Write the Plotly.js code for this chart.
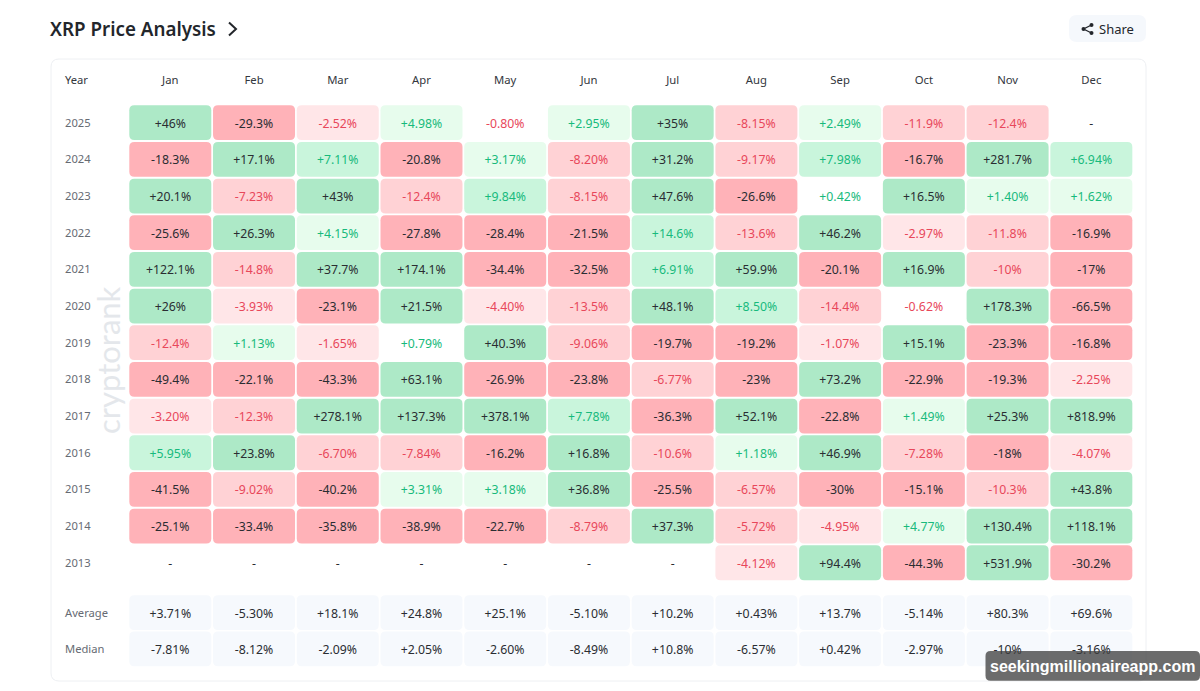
<!DOCTYPE html>
<html>
<head>
<meta charset="utf-8">
<script src="https://cdn.plot.ly/plotly-3.0.1.min.js"></script>
<style>html,body{margin:0;padding:0;background:#fff}#chart{width:1200px;height:691px}</style>
</head>
<body>
<div id="chart"></div>
<script>
const months = ["Jan","Feb","Mar","Apr","May","Jun","Jul","Aug","Sep","Oct","Nov","Dec"];
const years = ["2025","2024","2023","2022","2021","2020","2019","2018","2017","2016","2015","2014","2013"];
const y2025 = ["+46%","-29.3%","-2.52%","+4.98%","-0.80%","+2.95%","+35%","-8.15%","+2.49%","-11.9%","-12.4%","-"];
const y2024 = ["-18.3%","+17.1%","+7.11%","-20.8%","+3.17%","-8.20%","+31.2%","-9.17%","+7.98%","-16.7%","+281.7%","+6.94%"];
const y2023 = ["+20.1%","-7.23%","+43%","-12.4%","+9.84%","-8.15%","+47.6%","-26.6%","+0.42%","+16.5%","+1.40%","+1.62%"];
const y2022 = ["-25.6%","+26.3%","+4.15%","-27.8%","-28.4%","-21.5%","+14.6%","-13.6%","+46.2%","-2.97%","-11.8%","-16.9%"];
const y2021 = ["+122.1%","-14.8%","+37.7%","+174.1%","-34.4%","-32.5%","+6.91%","+59.9%","-20.1%","+16.9%","-10%","-17%"];
const y2020 = ["+26%","-3.93%","-23.1%","+21.5%","-4.40%","-13.5%","+48.1%","+8.50%","-14.4%","-0.62%","+178.3%","-66.5%"];
const y2019 = ["-12.4%","+1.13%","-1.65%","+0.79%","+40.3%","-9.06%","-19.7%","-19.2%","-1.07%","+15.1%","-23.3%","-16.8%"];
const y2018 = ["-49.4%","-22.1%","-43.3%","+63.1%","-26.9%","-23.8%","-6.77%","-23%","+73.2%","-22.9%","-19.3%","-2.25%"];
const y2017 = ["-3.20%","-12.3%","+278.1%","+137.3%","+378.1%","+7.78%","-36.3%","+52.1%","-22.8%","+1.49%","+25.3%","+818.9%"];
const y2016 = ["+5.95%","+23.8%","-6.70%","-7.84%","-16.2%","+16.8%","-10.6%","+1.18%","+46.9%","-7.28%","-18%","-4.07%"];
const y2015 = ["-41.5%","-9.02%","-40.2%","+3.31%","+3.18%","+36.8%","-25.5%","-6.57%","-30%","-15.1%","-10.3%","+43.8%"];
const y2014 = ["-25.1%","-33.4%","-35.8%","-38.9%","-22.7%","-8.79%","+37.3%","-5.72%","-4.95%","+4.77%","+130.4%","+118.1%"];
const y2013 = ["-","-","-","-","-","-","-","-4.12%","+94.4%","-44.3%","+531.9%","-30.2%"];
const average = ["+3.71%","-5.30%","+18.1%","+24.8%","+25.1%","-5.10%","+10.2%","+0.43%","+13.7%","-5.14%","+80.3%","+69.6%"];
const median = ["-7.81%","-8.12%","-2.09%","+2.05%","-2.60%","-8.49%","+10.8%","-6.57%","+0.42%","-2.97%","-10%","-3.16%"];

const yearRows = [y2025,y2024,y2023,y2022,y2021,y2020,y2019,y2018,y2017,y2016,y2015,y2014,y2013];
const summaryNames = ["Average","Median"];
const summaryRows = [average,median];

const W = 1200, H = 691;
const colCenter0 = 170.3, colPitch = 83.73, rowCenter0 = 122.7, rowPitch = 36.67;
const summaryPos = [13.36, 14.35];
const textNudge = 2.0 / rowPitch;   // scatter text sits a little high of centre
const headerPos = (80 - rowCenter0) / rowPitch;
const halfW = 41 / colPitch, halfH = 17.4 / rowPitch, r = 5;
const px = v => v / W, py = v => 1 - v / H;

function roundedPaper(l, t, rt, b, radius) {
  const L=px(l), R=px(rt), T=py(t), B=py(b), rx=radius/W, ry=radius/H;
  return `M${L+rx},${T} L${R-rx},${T} Q${R},${T} ${R},${T-ry} L${R},${B+ry} Q${R},${B} ${R-rx},${B} ` +
         `L${L+rx},${B} Q${L},${B} ${L},${B+ry} L${L},${T-ry} Q${L},${T} ${L+rx},${T} Z`;
}
function cellPath(j, i) {
  const x0 = j - halfW, x1 = j + halfW, y0 = i - halfH, y1 = i + halfH;
  const dx = r / colPitch, dy = r / rowPitch;
  return `M${x0+dx},${y0} L${x1-dx},${y0} Q${x1},${y0} ${x1},${y0+dy} L${x1},${y1-dy} Q${x1},${y1} ${x1-dx},${y1} ` +
         `L${x0+dx},${y1} Q${x0},${y1} ${x0},${y1-dy} L${x0},${y0+dy} Q${x0},${y0} ${x0+dx},${y0} Z`;
}
function cellStyle(label) {
  const v = parseFloat(label), a = Math.abs(v);
  const dark = "#2A2D32", red = "#E8475A", green = "#17BA7C";
  if (v >= 0) {
    if (a >= 15) return {fill:"#ADE9C7", text:dark};
    if (a >= 5)  return {fill:"#C9F5DC", text:green};
    if (a >= 1)  return {fill:"#E7FCED", text:green};
    return {fill:"#FFFFFF", text:green};
  }
  if (a >= 15) return {fill:"#FFB2B8", text:dark};
  if (a >= 5)  return {fill:"#FFD2D5", text:red};
  if (a >= 1)  return {fill:"#FFE6E8", text:red};
  return {fill:"#FFFFFF", text:red};
}

const shapes = [];
shapes.push({type:"path", xref:"paper", yref:"paper", layer:"below", fillcolor:"#FFFFFF",
  line:{color:"#EEF0F3", width:1}, path:roundedPaper(51,59,1146,681,8)});
shapes.push({type:"path", xref:"paper", yref:"paper", layer:"below", fillcolor:"#F5F8FC", line:{width:0},
  path:roundedPaper(1069,15,1146,42,8)});
shapes.push({type:"path", xref:"paper", yref:"paper", line:{color:"#23262B", width:2},
  path:`M${px(229)},${py(22.5)} L${px(236)},${py(29)} L${px(229)},${py(35.5)}`});
const sx = [1083.5, 1091.5, 1091.5], sy = [29, 25, 33];
shapes.push({type:"path", xref:"paper", yref:"paper", line:{color:"#23262B", width:1.3},
  path:`M${px(sx[1])},${py(sy[1])} L${px(sx[0])},${py(sy[0])} L${px(sx[2])},${py(sy[2])}`});
sx.forEach((cx,k)=>shapes.push({type:"circle", xref:"paper", yref:"paper", fillcolor:"#23262B", line:{width:0},
  x0:px(cx-2), x1:px(cx+2), y0:py(sy[k]+2), y1:py(sy[k]-2)}));
// credit badge, over the table
shapes.push({type:"path", xref:"paper", yref:"paper", layer:"above", fillcolor:"rgba(62,62,62,0.76)", line:{width:0},
  path:roundedPaper(985.5,651,1200,680.7,5)});

const groups = {};
function addLabel(j, i, label, color) {
  (groups[color] = groups[color] || {x:[], y:[], text:[]});
  groups[color].x.push(j); groups[color].y.push(i + textNudge); groups[color].text.push(label);
}
yearRows.forEach((row,i)=>row.forEach((label,j)=>{
  if (label === "-") { addLabel(j,i,label,"#2A2D32"); return; }
  const s = cellStyle(label);
  shapes.push({type:"path", xref:"x", yref:"y", layer:"below", fillcolor:s.fill, line:{width:0}, path:cellPath(j,i)});
  addLabel(j,i,label,s.text);
}));
summaryRows.forEach((row,k)=>row.forEach((label,j)=>{
  shapes.push({type:"path", xref:"x", yref:"y", layer:"below", fillcolor:"#F6F9FD", line:{width:0}, path:cellPath(j,summaryPos[k])});
  addLabel(j,summaryPos[k],label,"#2A2D32");
}));

const FONT = '"Noto Sans", sans-serif';
const traces = Object.keys(groups).map(color=>({
  type:"scatter", mode:"text", x:groups[color].x, y:groups[color].y, text:groups[color].text,
  textposition:"middle center", textfont:{family:FONT, size:12.3, color}, hoverinfo:"skip", cliponaxis:false
}));
traces.push({type:"scatter", mode:"text", x:months.map((_,j)=>j), y:months.map(()=>headerPos + 0.03), text:months,
  textposition:"middle center", textfont:{family:FONT, size:11.3, color:"#33373D"}, hoverinfo:"skip"});

const rowLabel = (text,pos,color) => ({xref:"paper", yref:"y", x:px(63), y:pos, text, showarrow:false, xanchor:"left", yanchor:"middle",
  font:{family:FONT, size:11.2, color}});
const annotations = [
  {xref:"paper", yref:"paper", x:px(63), y:py(79.6), text:"Year", showarrow:false, xanchor:"left", yanchor:"middle", font:{family:FONT, size:11.2, color:"#33373D"}},
  ...years.map((t,i)=>rowLabel(t,i-0.015,"#666B73")),
  ...summaryNames.map((t,k)=>rowLabel(t,summaryPos[k],"#666B73")),
  {xref:"paper", yref:"paper", x:px(48), y:py(29), text:"XRP Price Analysis", showarrow:false, xanchor:"left", yanchor:"middle",
    font:{family:FONT, size:18.8, color:"#23262B", weight:600}},
  {xref:"paper", yref:"paper", x:px(1097), y:py(29), text:"Share", showarrow:false, xanchor:"left", yanchor:"middle",
    font:{family:FONT, size:13, color:"#23262B"}},
  {xref:"paper", yref:"paper", x:px(108), y:py(360), text:"cryptorank", textangle:-90, showarrow:false, xanchor:"center", yanchor:"middle",
    font:{family:"Lato, sans-serif", size:31, color:"#E4E7EB", weight:400}},
  {xref:"paper", yref:"paper", x:px(1092.5), y:py(666), text:"seekingmillionaireapp.com", showarrow:false, xanchor:"center", yanchor:"middle",
    font:{family:'"Liberation Sans", Arial, sans-serif', size:16, color:"#FFFFFF", weight:700}}
];

const layout = {
  width:W, height:H, margin:{l:0,r:0,t:0,b:0}, paper_bgcolor:"#FFFFFF", plot_bgcolor:"rgba(0,0,0,0)",
  showlegend:false,
  xaxis:{range:[-colCenter0/colPitch,(W-colCenter0)/colPitch], visible:false, fixedrange:true},
  yaxis:{range:[(H-rowCenter0)/rowPitch,-rowCenter0/rowPitch], visible:false, fixedrange:true},
  shapes, annotations
};
Plotly.newPlot("chart", traces, layout, {displayModeBar:false, staticPlot:true});
</script>
</body>
</html>
